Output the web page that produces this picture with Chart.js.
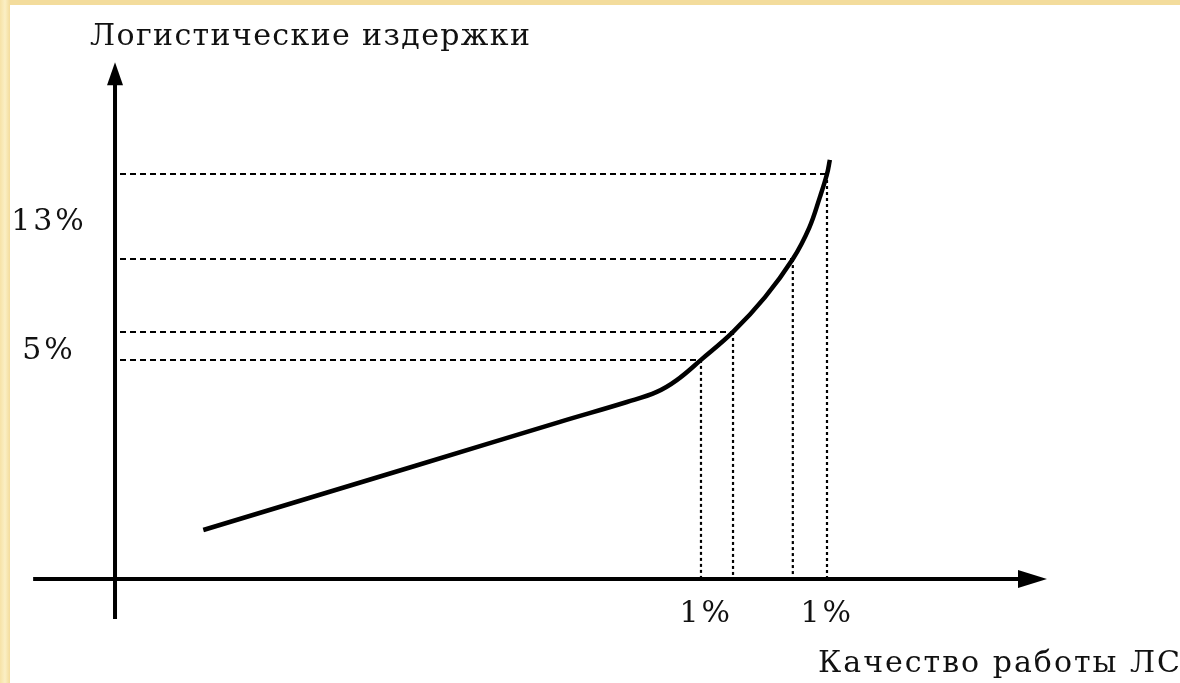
<!DOCTYPE html>
<html>
<head>
<meta charset="utf-8">
<script src="https://cdn.jsdelivr.net/npm/chart.js@4.4.0/dist/chart.umd.min.js"></script>
<style>
   html, body { margin: 0; padding: 0; }
   body { width: 1180px; height: 683px; overflow: hidden; position: relative;
      background: linear-gradient(90deg, #f6e2a6 0px, #fbefc4 5px, #f3dc9c 10px); }
   #wrap { position: absolute; left: 10px; top: 5px; width: 1170px; height: 678px; background: #fff; }
</style>
</head>
<body>
<div id="wrap"><canvas id="chart" width="1170" height="678"></canvas></div>
<script>
// axis titles
const titleY = 'Логистические издержки'
const titleX = 'Качество работы ЛС'

// cost curve (quality -> logistics costs), arbitrary units
const curveX = [12.4, 42.1, 62.5, 71.9, 76.1, 78.9, 82.3, 86.8, 91.3, 95.2, 97.5, 99.0, 100, 100.4]
const curveY = [12.1, 27.9, 38.8, 43.7, 46.2, 49.1, 54.1, 61.0, 69.6, 79.0, 86.7, 94.3, 100, 103.5]

// marked levels on the curve
const levelX = [82.3, 86.8, 95.2, 100]
const levelY = [54.1, 61.0, 79.0, 100]

// tick labels
const yTickValues = [88.9, 57.0]
const yTickLabels = ['13%', '5%']
const xTickValues = [82.9, 99.9]
const xTickLabels = ['1%', '1%']

const chartE = document.getElementById('chart')
const font = "30px 'DejaVu Serif'"

const curvePoints = curveX.map((x, i) => ({ x: x, y: curveY[i] }))

const datasets = [{
   data: curvePoints,
   showLine: true,
   borderColor: '#000',
   borderWidth: 4.5,
   pointRadius: 0,
   tension: 0.4
}]

levelX.forEach((lx, i) => {
   datasets.push({
      data: [{ x: 0.7, y: levelY[i] }, { x: lx, y: levelY[i] }],
      showLine: true,
      borderColor: '#000',
      borderWidth: 2,
      borderDash: [6, 4],
      pointRadius: 0
   })
   datasets.push({
      data: [{ x: lx, y: levelY[i] }, { x: lx, y: 0 }],
      showLine: true,
      borderColor: '#000',
      borderWidth: 2.2,
      borderDash: [3, 3],
      pointRadius: 0
   })
})

function spacedText(ctx, text, x, y, width) {
   ctx.letterSpacing = '0px'
   const natural = ctx.measureText(text).width
   const ls = text.length > 1 ? (width - natural) / (text.length - 1) : 0
   ctx.letterSpacing = ls + 'px'
   ctx.textAlign = 'left'
   ctx.fillText(text, x, y)
   ctx.letterSpacing = '0px'
}

const axesPlugin = {
   id: 'axes',
   beforeDatasetsDraw(chart) {
      const ctx = chart.ctx
      const xs = chart.scales.x
      const ys = chart.scales.y
      const ax = xs.getPixelForValue(0)
      const ay = ys.getPixelForValue(0)
      const top = ys.getPixelForValue(127.6)
      const bottom = ys.getPixelForValue(-9.9)
      const left = xs.getPixelForValue(-11.5)
      const right = xs.getPixelForValue(130.9)

      ctx.save()
      ctx.strokeStyle = '#000'
      ctx.fillStyle = '#000'
      ctx.lineWidth = 4
      ctx.beginPath()
      ctx.moveTo(ax, bottom)
      ctx.lineTo(ax, top + 10)
      ctx.moveTo(left, ay)
      ctx.lineTo(right - 10, ay)
      ctx.stroke()

      // arrow heads
      ctx.beginPath()
      ctx.moveTo(ax, top)
      ctx.lineTo(ax - 8, top + 23)
      ctx.lineTo(ax + 8, top + 23)
      ctx.closePath()
      ctx.fill()
      ctx.beginPath()
      ctx.moveTo(right, ay)
      ctx.lineTo(right - 29, ay - 9)
      ctx.lineTo(right - 29, ay + 9)
      ctx.closePath()
      ctx.fill()
      ctx.restore()
   },
   afterDatasetsDraw(chart) {
      const ctx = chart.ctx
      const xs = chart.scales.x
      const ys = chart.scales.y
      const ax = xs.getPixelForValue(0)
      const ay = ys.getPixelForValue(0)

      ctx.save()
      ctx.fillStyle = '#111'
      ctx.font = font
      ctx.textBaseline = 'alphabetic'

      spacedText(ctx, titleY, 80, 40, 440)
      spacedText(ctx, titleX, 808, 667, 362)

      ctx.letterSpacing = '3px'
      ctx.textAlign = 'center'
      yTickLabels.forEach((t, i) => {
         ctx.fillText(t, ax - 66, ys.getPixelForValue(yTickValues[i]) + 11)
      })
      xTickLabels.forEach((t, i) => {
         ctx.fillText(t, xs.getPixelForValue(xTickValues[i]) + 1, ay + 43)
      })
      ctx.restore()
   }
}

new Chart(chartE, {
   type: 'scatter',
   data: { datasets: datasets },
   options: {
      responsive: false,
      animation: false,
      layout: { padding: 0 },
      scales: {
         x: { type: 'linear', display: false, min: -14.75, max: 149.58 },
         y: { type: 'linear', display: false, min: -25.68, max: 141.73 }
      },
      plugins: {
         legend: { display: false },
         tooltip: { enabled: false }
      }
   },
   plugins: [axesPlugin]
})
</script>
</body>
</html>
